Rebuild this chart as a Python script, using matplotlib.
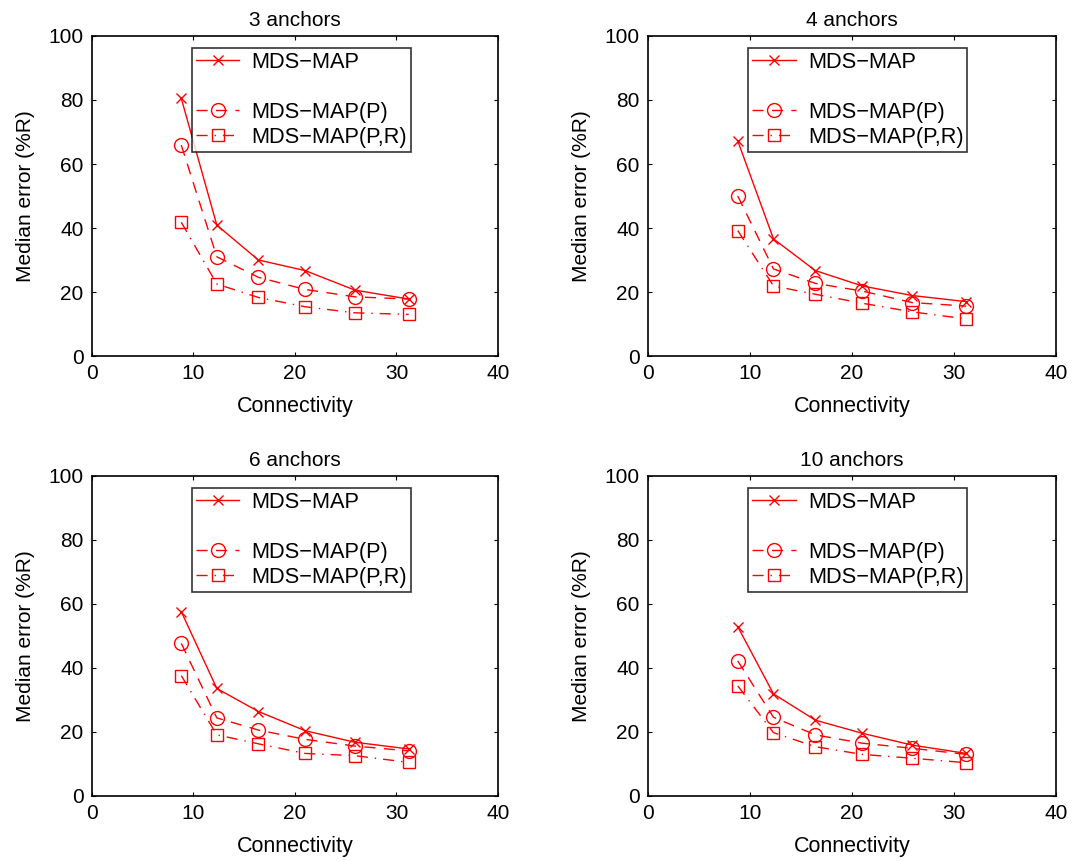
import matplotlib
matplotlib.use("Agg")
import matplotlib.pyplot as plt
from matplotlib.lines import Line2D

plt.rcParams['font.family'] = ['Liberation Sans', 'DejaVu Sans']

# data
connectivity = [8.8, 12.3, 16.4, 21.0, 25.9, 31.2]
titles = ['3 anchors', '4 anchors', '6 anchors', '10 anchors']
mds_map = [
    [80.5, 40.9, 30.0, 26.7, 20.6, 17.8],
    [67.2, 36.6, 26.7, 21.9, 18.9, 17.0],
    [57.6, 33.6, 26.4, 20.4, 16.8, 14.7],
    [52.9, 31.9, 23.7, 19.6, 15.9, 13.3],
]
mds_map_p = [
    [65.9, 31.0, 24.6, 20.8, 18.5, 17.8],
    [50.0, 27.2, 22.7, 20.3, 16.7, 15.6],
    [47.7, 24.4, 20.6, 17.7, 15.6, 14.1],
    [42.2, 24.6, 19.1, 16.5, 14.9, 13.0],
]
mds_map_pr = [
    [41.8, 22.5, 18.3, 15.4, 13.5, 13.0],
    [39.2, 21.9, 19.3, 16.5, 13.8, 11.6],
    [37.6, 19.1, 16.3, 13.3, 12.6, 10.5],
    [34.4, 19.8, 15.4, 13.0, 11.8, 10.4],
]
labels = ['MDS\u2212MAP', 'MDS\u2212MAP(P)', 'MDS\u2212MAP(P,R)']

fig = plt.figure(figsize=(10.72, 8.61), dpi=100)
positions = [
    [0.0858, 0.5865, 0.3787, 0.3717],
    [0.6045, 0.5865, 0.3806, 0.3717],
    [0.0858, 0.0755, 0.3787, 0.3717],
    [0.6045, 0.0755, 0.3806, 0.3717],
]
red = '#ff0000'

for i in range(4):
    ax = fig.add_axes(positions[i])
    l1, = ax.plot(connectivity, mds_map[i], '-', color=red, lw=1,
                  marker='x', ms=7, mew=1)
    l2, = ax.plot(connectivity, mds_map_p[i], '--', color=red, lw=1,
                  marker='o', ms=10, mfc='none', mew=1, dashes=(8, 6))
    l3, = ax.plot(connectivity, mds_map_pr[i], '-.', color=red, lw=1,
                  marker='s', ms=9, mfc='none', mew=1, dashes=(8, 5, 1, 5))
    blank = Line2D([], [], color='none')
    ax.set_xlim(0, 40)
    ax.set_ylim(0, 100)
    ax.set_xticks([0, 10, 20, 30, 40])
    ax.set_yticks([0, 20, 40, 60, 80, 100])
    ax.tick_params(direction='in', top=True, right=True, labelsize=15,
                   length=3, pad=6)
    for s in ax.spines.values():
        s.set_linewidth(1.2)
    ax.set_xlabel('Connectivity', fontsize=15.5, labelpad=9)
    ax.set_ylabel('Median error (%R)', fontsize=15, labelpad=10)
    ax.set_title(titles[i], fontsize=15, pad=7)
    leg = ax.legend([l1, blank, l2, l3], [labels[0], ' ', labels[1], labels[2]],
                    loc='upper left', bbox_to_anchor=(0.246, 0.9625),
                    borderaxespad=0, fontsize=15.7, frameon=True, fancybox=False,
                    handlelength=2.0, borderpad=0.18, labelspacing=0.18,
                    handletextpad=0.55)
    leg.get_frame().set_edgecolor('black')
    leg.get_frame().set_linewidth(1.2)

fig.savefig('out.png', dpi=100)
